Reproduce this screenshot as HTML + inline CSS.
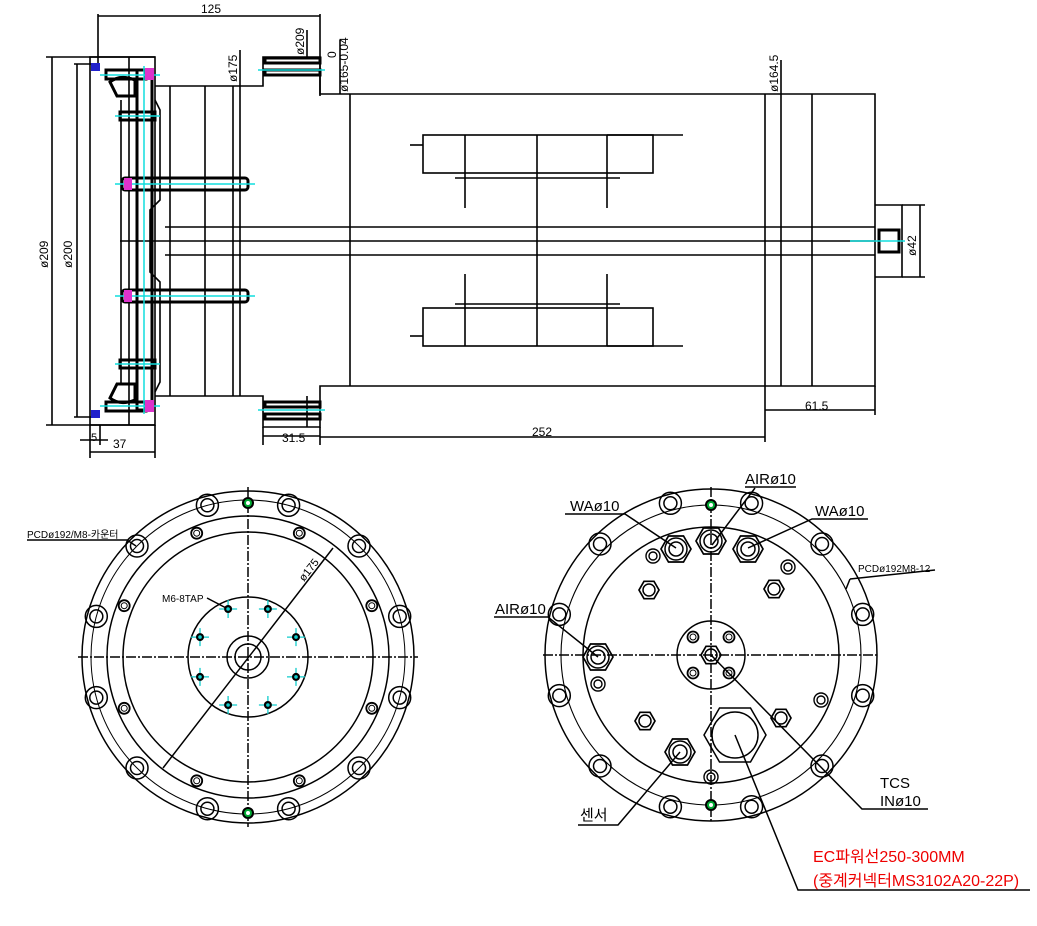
<!DOCTYPE html>
<html><head><meta charset="utf-8"><style>
html,body{margin:0;padding:0;background:#fff;}
svg{display:block}
text{font-family:"Liberation Sans","Noto Sans CJK KR",sans-serif;fill:#000}
</style></head><body>
<svg width="1037" height="926" viewBox="0 0 1037 926" xmlns="http://www.w3.org/2000/svg">
<defs>
<g id="bolt"><circle r="11" fill="none" stroke="#000" stroke-width="1.5"/><circle r="6.5" fill="none" stroke="#000" stroke-width="1.5"/></g>
<g id="sh"><circle r="5.5" fill="none" stroke="#000" stroke-width="1.8"/><circle r="3" fill="none" stroke="#000" stroke-width="1"/></g>
<g id="tap"><line x1="-9" y1="0" x2="9" y2="0" stroke="#1cc" stroke-width="1.3"/><line x1="0" y1="-9" x2="0" y2="9" stroke="#1cc" stroke-width="1.3"/><circle r="4" fill="#000"/><circle r="1.8" fill="#1cc"/></g>
<g id="gd"><circle r="5" fill="#0a3" stroke="#000" stroke-width="2"/><circle r="2" fill="#fff"/></g>
<g id="hexL"><polygon points="15,0 7.5,13 -7.5,13 -15,0 -7.5,-13 7.5,-13" fill="none" stroke="#000" stroke-width="1.7"/><circle r="11" fill="none" stroke="#000" stroke-width="1.5"/><circle r="7" fill="none" stroke="#000" stroke-width="1.5"/></g>
<g id="hexS"><polygon points="10,0 5,8.7 -5,8.7 -10,0 -5,-8.7 5,-8.7" fill="none" stroke="#000" stroke-width="1.7"/><circle r="6" fill="none" stroke="#000" stroke-width="1.5"/></g>
<g id="ring"><circle r="7" fill="none" stroke="#000" stroke-width="1.4"/><circle r="4" fill="none" stroke="#000" stroke-width="1.4"/></g>
</defs>

<g stroke="#000" stroke-width="1.6" fill="none">
<line x1="98" y1="16" x2="320" y2="16"/>
<line x1="98" y1="14" x2="98" y2="66"/>
<line x1="320" y1="14" x2="320" y2="96"/>
<line x1="52" y1="57" x2="52" y2="425"/>
<line x1="46" y1="57" x2="155" y2="57"/>
<line x1="46" y1="425" x2="155" y2="425"/>
<line x1="77" y1="64" x2="77" y2="417"/>
<line x1="74" y1="64" x2="92" y2="64"/>
<line x1="74" y1="417" x2="92" y2="417"/>
<rect x="90" y="57" width="65" height="368"/>
<line x1="129" y1="57" x2="129" y2="425"/>
<line x1="121" y1="100" x2="121" y2="385"/>
<polyline points="155,86 263,86 263,57 320,57 320,94 875,94 875,386 320,386 320,427 263,427 263,396 155,396"/>
<line x1="170" y1="86" x2="170" y2="396"/>
<line x1="205" y1="86" x2="205" y2="396"/>
<line x1="233" y1="86" x2="233" y2="396"/>
<line x1="240" y1="50" x2="240" y2="396"/>
<line x1="307" y1="30" x2="307" y2="57"/>
<line x1="307" y1="396" x2="307" y2="427"/>
<line x1="350" y1="94" x2="350" y2="386"/>
<line x1="340" y1="40" x2="340" y2="94"/>
<line x1="765" y1="94" x2="765" y2="442"/>
<line x1="781" y1="60" x2="781" y2="386"/>
<line x1="812" y1="94" x2="812" y2="386"/>
<polyline points="155,100 160,110 160,200 150,210 150,272 160,282 160,382 155,392"/>
<line x1="165" y1="227" x2="875" y2="227"/>
<line x1="120" y1="241" x2="875" y2="241"/>
<line x1="165" y1="255" x2="875" y2="255"/>
<polyline points="875,205 902,205 902,277 875,277"/>
<line x1="902" y1="205" x2="925" y2="205"/>
<line x1="902" y1="277" x2="925" y2="277"/>
<line x1="920" y1="205" x2="920" y2="277"/>
<rect x="423" y="135" width="230" height="38"/>
<line x1="465" y1="135" x2="465" y2="208"/>
<line x1="537" y1="135" x2="537" y2="241"/>
<line x1="607" y1="135" x2="607" y2="208"/>
<line x1="607" y1="135" x2="683" y2="135"/>
<line x1="410" y1="145" x2="423" y2="145"/>
<line x1="455" y1="178" x2="620" y2="178"/>
<rect x="423" y="308" width="230" height="38"/>
<line x1="465" y1="274" x2="465" y2="346"/>
<line x1="537" y1="241" x2="537" y2="346"/>
<line x1="607" y1="274" x2="607" y2="346"/>
<line x1="607" y1="346" x2="683" y2="346"/>
<line x1="410" y1="336" x2="423" y2="336"/>
<line x1="455" y1="304" x2="620" y2="304"/>
<line x1="263" y1="436" x2="320" y2="436"/>
<line x1="263" y1="427" x2="263" y2="445"/>
<line x1="320" y1="437" x2="765" y2="437"/>
<line x1="320" y1="427" x2="320" y2="445"/>
<line x1="765" y1="410" x2="875" y2="410"/>
<line x1="875" y1="386" x2="875" y2="415"/>
<line x1="90" y1="425" x2="90" y2="458"/>
<line x1="155" y1="425" x2="155" y2="458"/>
<line x1="90" y1="452" x2="155" y2="452"/>
<line x1="80" y1="440" x2="108" y2="440"/>
<line x1="100" y1="425" x2="100" y2="445"/>
</g>
<g stroke="#000" stroke-width="3" fill="none">
<rect x="137" y="70" width="15" height="340"/>
<rect x="122" y="178" width="126" height="12" rx="3"/>
<rect x="122" y="290" width="126" height="12" rx="3"/>
<rect x="120" y="112" width="35" height="8"/>
<rect x="120" y="360" width="35" height="8"/>
<rect x="106" y="70" width="40" height="9"/>
<rect x="106" y="402" width="40" height="9"/>
<path d="M110,82 q10,-8 25,-2 l0,16 l-18,0 z"/>
<path d="M110,398 q10,8 25,2 l0,-16 l-18,0 z"/>
<rect x="265" y="58" width="55" height="5"/>
<rect x="265" y="70" width="55" height="5"/>
<rect x="265" y="402" width="55" height="5"/>
<rect x="265" y="414" width="55" height="5"/>
<rect x="879" y="230" width="20" height="22"/>
</g>
<g stroke="#1dd" stroke-width="1.5">
<line x1="144" y1="66" x2="144" y2="414"/>
<line x1="115" y1="184" x2="255" y2="184"/>
<line x1="115" y1="296" x2="255" y2="296"/>
<line x1="100" y1="75" x2="160" y2="75"/>
<line x1="100" y1="406" x2="160" y2="406"/>
<line x1="115" y1="116" x2="160" y2="116"/>
<line x1="115" y1="364" x2="160" y2="364"/>
<line x1="258" y1="70" x2="325" y2="70"/>
<line x1="258" y1="410" x2="325" y2="410"/>
<line x1="850" y1="241" x2="905" y2="241"/>
</g>
<g fill="#d3c">
<rect x="145" y="68" width="9" height="12"/><rect x="145" y="400" width="9" height="12"/>
<rect x="124" y="178" width="8" height="12"/><rect x="124" y="290" width="8" height="12"/>
</g>
<rect x="91" y="63" width="9" height="8" fill="#22c"/>
<rect x="91" y="410" width="9" height="8" fill="#22c"/>
<g font-size="12">
<text x="201" y="13">125</text>
<text x="113" y="448">37</text>
<text x="91" y="441" font-size="11">5</text>
<text x="282" y="442">31.5</text>
<text x="532" y="436">252</text>
<text x="805" y="410">61.5</text>
<text transform="translate(48,268) rotate(-90)">ø209</text>
<text transform="translate(72,268) rotate(-90)">ø200</text>
<text transform="translate(237,82) rotate(-90)">ø175</text>
<text transform="translate(304,55) rotate(-90)">ø209</text>
<text transform="translate(336,58) rotate(-90)">0</text>
<text transform="translate(348,92) rotate(-90)">ø165-0.04</text>
<text transform="translate(778,92) rotate(-90)">ø164.5</text>
<text transform="translate(916,256) rotate(-90)">ø42</text>
</g>

<g stroke="#000" stroke-width="1.5" fill="none">
<circle cx="248" cy="657" r="166"/>
<circle cx="248" cy="657" r="157" stroke-width="1"/>
<circle cx="248" cy="657" r="141"/>
<circle cx="248" cy="657" r="125"/>
<circle cx="248" cy="657" r="60"/>
<circle cx="248" cy="657" r="21"/>
<circle cx="248" cy="657" r="13"/>
<line x1="78" y1="657" x2="418" y2="657" stroke-dasharray="10,2,2,2"/>
<line x1="248" y1="487" x2="248" y2="827" stroke-dasharray="10,2,2,2"/>
<line x1="163" y1="768" x2="333" y2="548"/>
<polyline points="27,540 127,540 136,546"/>
<line x1="207" y1="598" x2="228" y2="609"/>
</g>
<g>
<use href="#bolt" x="399.7" y="616.4"/><use href="#bolt" x="359" y="546"/><use href="#bolt" x="288.6" y="505.3"/><use href="#bolt" x="207.4" y="505.3"/><use href="#bolt" x="137" y="546"/><use href="#bolt" x="96.3" y="616.4"/><use href="#bolt" x="96.3" y="697.6"/><use href="#bolt" x="137" y="768"/><use href="#bolt" x="207.4" y="808.7"/><use href="#bolt" x="288.6" y="808.7"/><use href="#bolt" x="359" y="768"/><use href="#bolt" x="399.7" y="697.6"/>
<use href="#sh" x="371.8" y="605.7"/><use href="#sh" x="299.3" y="533.2"/><use href="#sh" x="196.7" y="533.2"/><use href="#sh" x="124.2" y="605.7"/><use href="#sh" x="124.2" y="708.3"/><use href="#sh" x="196.7" y="780.8"/><use href="#sh" x="299.3" y="780.8"/><use href="#sh" x="371.8" y="708.3"/>
<use href="#tap" x="296" y="637.1"/><use href="#tap" x="267.9" y="609"/><use href="#tap" x="228.1" y="609"/><use href="#tap" x="200" y="637.1"/><use href="#tap" x="200" y="676.9"/><use href="#tap" x="228.1" y="705"/><use href="#tap" x="267.9" y="705"/><use href="#tap" x="296" y="676.9"/>
<use href="#gd" x="248" y="503"/><use href="#gd" x="248" y="813"/>
</g>
<text x="27" y="538" font-size="10">PCDø192/M8-카운터</text>
<text x="162" y="602" font-size="10">M6-8TAP</text>
<text transform="translate(304,582) rotate(-52)" font-size="11">ø175</text>

<g stroke="#000" stroke-width="1.5" fill="none">
<circle cx="711" cy="655" r="166"/>
<circle cx="711" cy="655" r="150" stroke-width="1.1"/>
<circle cx="711" cy="655" r="128"/>
<circle cx="711" cy="655" r="34"/>
<line x1="543" y1="655" x2="879" y2="655" stroke-dasharray="10,2,2,2"/>
<line x1="711" y1="487" x2="711" y2="823" stroke-dasharray="10,2,2,2"/>
<circle cx="735" cy="735" r="23"/>
<polygon points="766,735 750.5,762 719.5,762 704,735 719.5,708 750.5,708"/>
<polyline points="745,487 796,487"/><line x1="755" y1="488" x2="712" y2="545"/>
<polyline points="565,514 625,514 676,548"/>
<polyline points="868,519 812,519 748,548"/>
<polyline points="494,617 548,617 598,657"/>
<line x1="850" y1="579" x2="846" y2="589"/><line x1="850" y1="579" x2="935" y2="570"/>
<polyline points="711,655 862,809 928,809"/>
<polyline points="578,825 618,825 680,752"/>
<polyline points="735,735 798,890 1030,890"/>
</g>
<g>
<use href="#bolt" x="862.7" y="614.4"/><use href="#bolt" x="822" y="544"/><use href="#bolt" x="751.6" y="503.3"/><use href="#bolt" x="670.4" y="503.3"/><use href="#bolt" x="600" y="544"/><use href="#bolt" x="559.3" y="614.4"/><use href="#bolt" x="559.3" y="695.6"/><use href="#bolt" x="600" y="766"/><use href="#bolt" x="670.4" y="806.7"/><use href="#bolt" x="751.6" y="806.7"/><use href="#bolt" x="822" y="766"/><use href="#bolt" x="862.7" y="695.6"/>
<use href="#gd" x="711" y="505"/><use href="#gd" x="711" y="805"/>
<use href="#hexL" x="711" y="541"/><use href="#hexL" x="676" y="549"/><use href="#hexL" x="748" y="549"/>
<use href="#hexL" x="598" y="657"/><use href="#hexL" x="680" y="752"/>
<use href="#hexS" x="649" y="590"/><use href="#hexS" x="774" y="589"/><use href="#hexS" x="645" y="721"/><use href="#hexS" x="781" y="718"/>
<use href="#hexS" x="711" y="655"/>
<use href="#ring" x="653" y="556"/><use href="#ring" x="788" y="567"/><use href="#ring" x="598" y="684"/><use href="#ring" x="821" y="700"/><use href="#ring" x="711" y="777"/>
<use href="#sh" x="693" y="637"/><use href="#sh" x="729" y="637"/><use href="#sh" x="693" y="673"/><use href="#sh" x="729" y="673"/>
</g>
<g font-size="15" font-family="DejaVu Sans Condensed, Liberation Sans, sans-serif">
<text x="745" y="484">AIRø10</text>
<text x="570" y="511">WAø10</text>
<text x="815" y="516">WAø10</text>
<text x="495" y="614">AIRø10</text>
<text x="880" y="788">TCS</text>
<text x="880" y="806">INø10</text>
<text x="580" y="820">센서</text>
</g>
<text x="858" y="572" font-size="10">PCDø192M8-12</text>
<g font-size="16">
<text x="813" y="862" style="fill:#e00">EC파워선250-300MM</text>
<text x="813" y="886" style="fill:#e00">(중계커넥터MS3102A20-22P)</text>
</g>
</svg>
</body></html>
